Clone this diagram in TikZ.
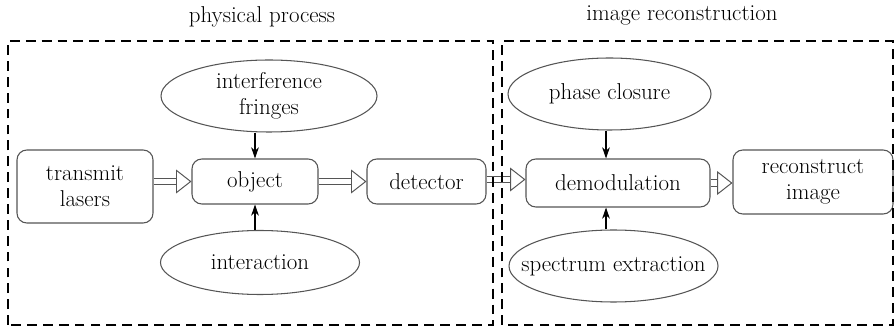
\documentclass[tikz,border=0pt]{standalone}
\usetikzlibrary{arrows.meta, shapes.geometric}
\definecolor{edgegray}{HTML}{555555}
\begin{document}
\begin{tikzpicture}[every node/.style={font=\fontsize{16.3}{18.5}\selectfont, align=center, inner sep=0pt},
    procbox/.style={draw=edgegray, line width=0.75pt, rounded corners=7pt},
    infoell/.style={draw=edgegray, line width=0.75pt, ellipse, inner xsep=-1.5cm, inner ysep=-0.3cm},
    hollow/.style={draw=edgegray, line width=0.7pt, double=white, double distance=3.8pt, -{Triangle[open, length=11pt, width=17pt]}},
    feed/.style={line width=0.8pt, -{Stealth[length=8pt, width=5.5pt]}},
    groupbox/.style={line width=1.6pt, dash pattern=on 7pt off 4.3pt}]
    \useasboundingbox (0,0) rectangle (22.375,8.2);

    \node[procbox, minimum width=3.4cm, minimum height=1.825cm] (lasers) at (2.125,3.5375) {transmit\\lasers};
    \node[procbox, minimum width=3.15cm, minimum height=1.125cm] (object) at (6.375,3.6625) {object};
    \node[procbox, minimum width=2.975cm, minimum height=1.125cm] (detector) at (10.6625,3.6625) {detector};
    \node[procbox, minimum width=4.6cm, minimum height=1.2cm] (demod) at (15.45,3.625) {demodulation};
    \node[procbox, minimum width=4.0cm, minimum height=1.6cm] (recon) at (20.325,3.65) {reconstruct\\image};

    \node[infoell, minimum width=5.4cm, minimum height=1.8cm] (fringes) at (6.725,5.8) {interference\\fringes};
    \node[infoell, minimum width=4.975cm, minimum height=1.6cm] (interact) at (6.5,1.6375) {interaction};
    \node[infoell, minimum width=5.075cm, minimum height=1.8cm] (phase) at (15.2375,5.85) {phase closure};
    \node[infoell, minimum width=5.225cm, minimum height=1.8cm] (spectrum) at (15.3375,1.55) {spectrum extraction};

    \node (physlabel) at (6.55,7.775) {physical process};
    \node (reclabel) at (17.05,7.825) {image reconstruction};

    \coordinate (dn) at ([xshift=-3mm]demod.north);
    \coordinate (ds) at ([xshift=-3mm]demod.south);

    \draw[hollow] (lasers.east |- object.west) -- (object.west);
    \draw[hollow] (object.east) -- (detector.west);
    \draw[hollow] ([yshift=0.5mm]detector.east) -- ([yshift=0.5mm]detector.east -| demod.west);
    \draw[hollow] (demod.east) -- (demod.east -| recon.west);

    \draw[feed] (fringes.south -| object.north) -- (object.north);
    \draw[feed] (interact.north -| object.south) -- (object.south);
    \draw[feed] (phase.south -| dn) -- (dn);
    \draw[feed] (spectrum.north -| ds) -- (ds);

    \draw[groupbox] (0.2,0.075) rectangle (12.325,7.175);
    \draw[groupbox] (12.55,0.075) rectangle (22.325,7.175);
\end{tikzpicture}
\end{document}
